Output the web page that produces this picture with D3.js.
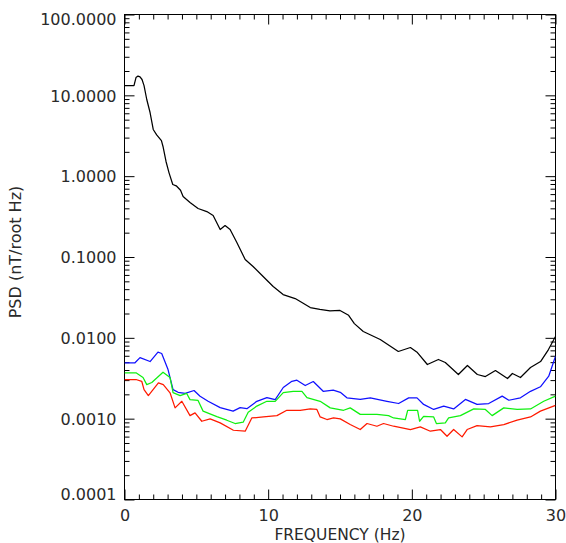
<!DOCTYPE html>
<html>
<head>
<meta charset="utf-8">
<script src="https://cdn.jsdelivr.net/npm/d3@7"></script>
<style>
  html, body { margin: 0; padding: 0; background: #fff; }
  svg { display: block; }
  text { font-family: "DejaVu Sans", sans-serif; fill: #2a2a2a; }
</style>
</head>
<body>
<svg id="chart" width="566" height="543"></svg>
<script>
// ---- data (frequency in Hz, PSD in nT/root Hz) ----
const blackFreq = [0, 0.66, 0.8, 0.94, 1.08, 1.22, 1.36, 1.55, 1.78, 2.0, 2.24, 2.57, 2.68, 2.89, 3.1, 3.36, 3.6, 3.9, 4.08, 4.56, 5.12, 5.73, 6.17, 6.66, 7.0, 7.35, 7.82, 8.4, 8.95, 9.65, 10.35, 11.04, 11.88, 12.35, 12.93, 13.6, 14.3, 15.0, 15.6, 16.0, 16.62, 17.8, 19.06, 19.9, 20.39, 21.08, 21.85, 22.33, 23.24, 23.87, 24.56, 25.12, 25.82, 26.66, 27.0, 27.56, 28.26, 28.96, 29.51, 30];
const blackPsd  = [13.2, 13.2, 16.6, 17.3, 16.9, 15.7, 13.2, 8.88, 6.13, 3.78, 3.25, 2.75, 2.33, 1.52, 1.10, 0.789, 0.76, 0.67, 0.560, 0.472, 0.398, 0.365, 0.326, 0.219, 0.245, 0.219, 0.151, 0.0931, 0.0762, 0.0573, 0.0431, 0.0343, 0.0306, 0.0273, 0.0237, 0.0225, 0.0215, 0.0218, 0.0190, 0.0150, 0.01197, 0.00953, 0.00678, 0.00759, 0.00658, 0.00468, 0.00540, 0.00495, 0.00352, 0.00455, 0.00352, 0.00332, 0.00394, 0.00314, 0.00362, 0.00323, 0.00430, 0.00509, 0.00716, 0.0104];

const blueFreq = [0, 0.73, 1.08, 1.78, 2.33, 2.59, 3.03, 3.38, 3.73, 4.22, 4.84, 5.26, 5.82, 6.66, 7.56, 8.05, 8.52, 9.21, 9.91, 10.49, 11.05, 11.65, 12.0, 12.58, 13.14, 13.83, 14.53, 15.02, 15.48, 16.41, 17.11, 18.27, 19.08, 19.78, 20.36, 20.82, 21.52, 22.22, 22.91, 23.73, 24.54, 25.35, 26.29, 26.75, 27.56, 28.26, 28.95, 29.53, 30];
const bluePsd  = [0.00491, 0.00491, 0.00570, 0.00509, 0.00664, 0.00640, 0.00405, 0.00229, 0.00212, 0.00205, 0.00223, 0.00189, 0.00164, 0.00137, 0.00124, 0.00137, 0.00133, 0.00164, 0.00182, 0.00172, 0.00243, 0.00290, 0.00299, 0.00257, 0.00288, 0.00218, 0.00225, 0.00212, 0.00181, 0.00173, 0.00181, 0.00164, 0.00154, 0.00181, 0.00181, 0.00150, 0.00130, 0.00143, 0.00132, 0.00173, 0.00150, 0.00154, 0.00190, 0.00169, 0.00181, 0.00218, 0.00248, 0.00335, 0.00592];

const greenFreq = [0, 0.8, 1.29, 1.55, 1.9, 2.68, 3.17, 3.38, 3.87, 4.33, 4.56, 5.12, 5.47, 6.43, 7.12, 7.7, 8.26, 8.61, 9.21, 9.91, 10.49, 11.05, 11.74, 12.35, 12.7, 13.62, 14.32, 15.25, 15.71, 16.41, 17.57, 18.38, 18.73, 19.55, 19.71, 20.40, 20.54, 20.82, 21.52, 21.71, 22.33, 22.56, 23.38, 24.31, 25.12, 25.59, 26.4, 27.33, 28.26, 29.18, 30];
const greenPsd  = [0.00369, 0.00369, 0.00323, 0.00264, 0.00280, 0.00375, 0.00323, 0.00210, 0.00193, 0.00205, 0.00172, 0.00168, 0.00124, 0.00106, 0.000957, 0.000871, 0.000904, 0.00120, 0.00143, 0.00164, 0.00164, 0.00210, 0.00218, 0.00218, 0.00182, 0.00164, 0.00136, 0.00127, 0.00136, 0.00113, 0.00113, 0.00109, 0.00102, 0.000976, 0.00127, 0.00127, 0.000929, 0.00107, 0.00105, 0.000871, 0.000888, 0.00102, 0.00109, 0.00132, 0.00130, 0.00109, 0.00136, 0.00130, 0.00132, 0.00164, 0.00190];

const redFreq = [0, 0.8, 1.2, 1.36, 1.66, 2.36, 2.7, 3.17, 3.52, 3.99, 4.56, 4.91, 5.38, 5.96, 6.66, 7.58, 8.4, 8.86, 9.67, 10.61, 11.3, 12.23, 12.93, 13.39, 13.62, 14.09, 14.55, 15.02, 15.71, 16.41, 16.88, 17.57, 18.03, 18.73, 19.32, 19.9, 20.59, 21.29, 21.99, 22.45, 22.91, 23.5, 23.85, 24.54, 25.47, 26.4, 27.33, 28.26, 28.95, 30];
const redPsd  = [0.00305, 0.00305, 0.00290, 0.00229, 0.00193, 0.00277, 0.00264, 0.00209, 0.00136, 0.00164, 0.00109, 0.00118, 0.000929, 0.000995, 0.000888, 0.000719, 0.000699, 0.00102, 0.00105, 0.00109, 0.00127, 0.00127, 0.00132, 0.00130, 0.00105, 0.000976, 0.00102, 0.000995, 0.000846, 0.000734, 0.000871, 0.000806, 0.000871, 0.000806, 0.000771, 0.000734, 0.000792, 0.000699, 0.000734, 0.000606, 0.000734, 0.000595, 0.000734, 0.000822, 0.000792, 0.000846, 0.000957, 0.00105, 0.00124, 0.00146];

const xMajorTicks = [0, 10, 20, 30];
const yMajorTicks = [100, 10, 1, 0.1, 0.01, 0.001, 0.0001];
const yTickLabels = ["100.0000", "10.0000", "1.0000", "0.1000", "0.0100", "0.0010", "0.0001"];
const xLabel = "FREQUENCY (Hz)";
const yLabel = "PSD (nT/root Hz)";

// ---- layout ----
const svg = d3.select("#chart");
const L = 124.5, R = 555.5, T = 14.5, B = 499.5;

const x = d3.scaleLinear().domain([0, 30]).range([L, R]);
const y = d3.scaleLog().domain([0.0001, 100]).range([B, T]);

const xMinor = d3.range(0, 31, 1).filter(d => !xMajorTicks.includes(d));
const yMinor = [];
[0.0001, 0.001, 0.01, 0.1, 1, 10].forEach(dec => { for (let k = 2; k <= 9; k++) yMinor.push(dec * k); });

function tickAxis(gen, transform) {
  const g = svg.append("g").attr("transform", transform).call(gen);
  g.select(".domain").remove();
  g.selectAll(".tick line").attr("stroke", "#000").attr("stroke-width", 1);
  return g;
}

// bottom
tickAxis(d3.axisBottom(x).tickValues(xMinor).tickSize(-5).tickFormat(""), `translate(0,${B})`);
const xb = tickAxis(d3.axisBottom(x).tickValues(xMajorTicks).tickSize(-10).tickFormat(d3.format("d")), `translate(0,${B})`);
xb.selectAll("text").attr("font-size", 16).attr("fill", "#2a2a2a").attr("dy", "0").attr("y", 21);
// top
tickAxis(d3.axisTop(x).tickValues(xMinor).tickSize(-5).tickFormat(""), `translate(0,${T})`);
tickAxis(d3.axisTop(x).tickValues(xMajorTicks).tickSize(-10).tickFormat(""), `translate(0,${T})`);
// left
tickAxis(d3.axisLeft(y).tickValues(yMinor).tickSize(-5).tickFormat(""), `translate(${L},0)`);
const yl = tickAxis(d3.axisLeft(y).tickValues(yMajorTicks).tickSize(-10).tickPadding(8)
  .tickFormat((d, i) => yTickLabels[i]), `translate(${L},0)`);
yl.selectAll("text").attr("font-size", 16).attr("fill", "#2a2a2a")
  .attr("dy", (d, i) => i === 0 ? "0.62em" : (i === yMajorTicks.length - 1 ? "0em" : "0.36em"));
// right
tickAxis(d3.axisRight(y).tickValues(yMinor).tickSize(-5).tickFormat(""), `translate(${R},0)`);
tickAxis(d3.axisRight(y).tickValues(yMajorTicks).tickSize(-10).tickFormat(""), `translate(${R},0)`);

// frame
svg.append("rect").attr("x", L).attr("y", T).attr("width", R - L).attr("height", B - T)
  .attr("fill", "none").attr("stroke", "#000").attr("stroke-width", 1);

// lines
const line = d3.line().x(d => x(d[0])).y(d => y(d[1]));
const series = [
  { f: blackFreq, v: blackPsd, c: "#000000" },
  { f: blueFreq, v: bluePsd, c: "#1010ff" },
  { f: greenFreq, v: greenPsd, c: "#10f010" },
  { f: redFreq, v: redPsd, c: "#ff1a00" }
];
svg.append("clipPath").attr("id", "clip").append("rect")
  .attr("x", L).attr("y", T).attr("width", R - L).attr("height", B - T);
series.forEach(s => {
  svg.append("path")
    .datum(s.f.map((f, i) => [f, s.v[i]]))
    .attr("clip-path", "url(#clip)")
    .attr("fill", "none").attr("stroke", s.c).attr("stroke-width", 1.25)
    .attr("stroke-linejoin", "round")
    .attr("d", line);
});

// axis titles
svg.append("text").attr("x", (L + R) / 2).attr("y", 539.5).attr("text-anchor", "middle")
  .attr("font-size", 15.5).text(xLabel);
svg.append("text").attr("transform", `translate(21,${(T + B) / 2 - 5}) rotate(-90)`)
  .attr("text-anchor", "middle").attr("font-size", 16).text(yLabel);
</script>
</body>
</html>
